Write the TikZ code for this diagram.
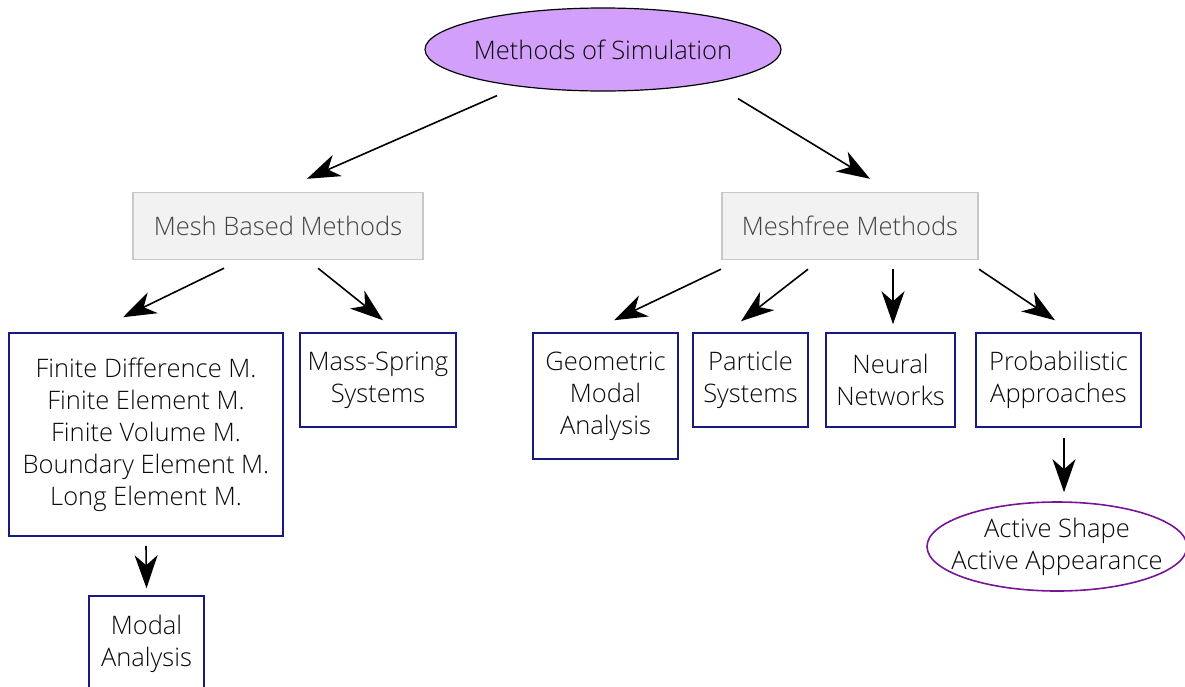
\documentclass[tikz,border=0pt]{standalone}
\usepackage{fontspec}
\setmainfont{Open Sans}[UprightFont={* Light}]
\usetikzlibrary{shapes.geometric,arrows.meta,calc}
\definecolor{topfill}{RGB}{210,160,250}
\definecolor{navy}{RGB}{25,25,130}
\definecolor{grayfill}{RGB}{242,242,242}
\definecolor{grayline}{RGB}{200,200,200}
\definecolor{graytext}{RGB}{68,68,68}
\definecolor{purp}{RGB}{120,20,150}
\definecolor{txt}{RGB}{10,10,10}
\begin{document}
\begin{tikzpicture}[x=1pt,y=-1pt,
  every node/.style={font=\fontsize{25.5}{32}\selectfont, align=center, inner sep=0pt, text=txt},
  topell/.style={ellipse, draw=black, line width=1.2pt, fill=topfill, inner xsep=-40pt, inner ysep=-20pt},
  graybox/.style={rectangle, draw=grayline, line width=1.4pt, fill=grayfill, text=graytext},
  navybox/.style={rectangle, draw=navy, line width=1.5pt, fill=white},
  purpell/.style={ellipse, draw=purp, line width=1.6pt, fill=white, inner xsep=-40pt, inner ysep=-20pt},
  arr/.style={-{Stealth[length=33pt,width=23pt,inset=10pt]}, line width=1.6pt, black}]
\useasboundingbox (0,0) rectangle (1185,686);
\begin{scope}
\clip (0,0) rectangle (1185,686);
\node[topell, minimum width=356, minimum height=83] (top) at (603,49.5) {Methods of Simulation};
\node[graybox, minimum width=290, minimum height=67] (mesh) at (278,226) {Mesh Based Methods};
\node[graybox, minimum width=256, minimum height=67] (meshfree) at (850,226) {Meshfree Methods};
\node[navybox, minimum width=274, minimum height=203] (fd) at (146,434.5) {Finite Difference M.\\Finite Element M.\\Finite Volume M.\\Boundary Element M.\\Long Element M.};
\node[navybox, minimum width=156, minimum height=94] (ms) at (378,380) {Mass-Spring\\Systems};
\node[navybox, minimum width=115, minimum height=96] (modal) at (146.5,644) {Modal\\Analysis};
\node[navybox, minimum width=145, minimum height=126] (geo) at (605.5,396) {Geometric\\Modal\\Analysis};
\node[navybox, minimum width=115, minimum height=94] (ps) at (750.5,380) {Particle\\Systems};
\node[navybox, minimum width=129, minimum height=94] (nn) at (890.5,380) {Neural\\Networks};
\node[navybox, minimum width=165, minimum height=94] (pa) at (1058.5,380) {Probabilistic\\Approaches};
\node[purpell, minimum width=260, minimum height=89] (as) at (1057,546.5) {Active Shape\\Active Appearance};
\draw[arr] ($(top.south)+(-106,4)$) -- ($(mesh.north)+(29,-13)$);
\draw[arr] ($(top.south)+(135,7)$) -- ($(meshfree.north)+(20,-13)$);
\draw[arr] ($(mesh.south)+(-54,8)$) -- ($(fd.north)+(-23,-15)$);
\draw[arr] ($(mesh.south)+(40,8)$) -- ($(ms.north)+(5,-12)$);
\draw[arr] ($(fd.south)+(0,9)$) -- ($(modal.north)+(0,-7)$);
\draw[arr] ($(meshfree.south)+(-129,9)$) -- ($(geo.north)+(8.5,-12)$);
\draw[arr] ($(meshfree.south)+(-42,9)$) -- ($(ps.north)+(-9.5,-11)$);
\draw[arr] ($(meshfree.south)+(43,9)$) -- ($(nn.north)+(2.5,-8)$);
\draw[arr] ($(meshfree.south)+(129,9)$) -- ($(pa.north)+(-3.5,-12)$);
\draw[arr] ($(pa.south)+(5.5,10)$) -- ($(as.north)+(7,-9)$);
\end{scope}
\end{tikzpicture}
\end{document}
